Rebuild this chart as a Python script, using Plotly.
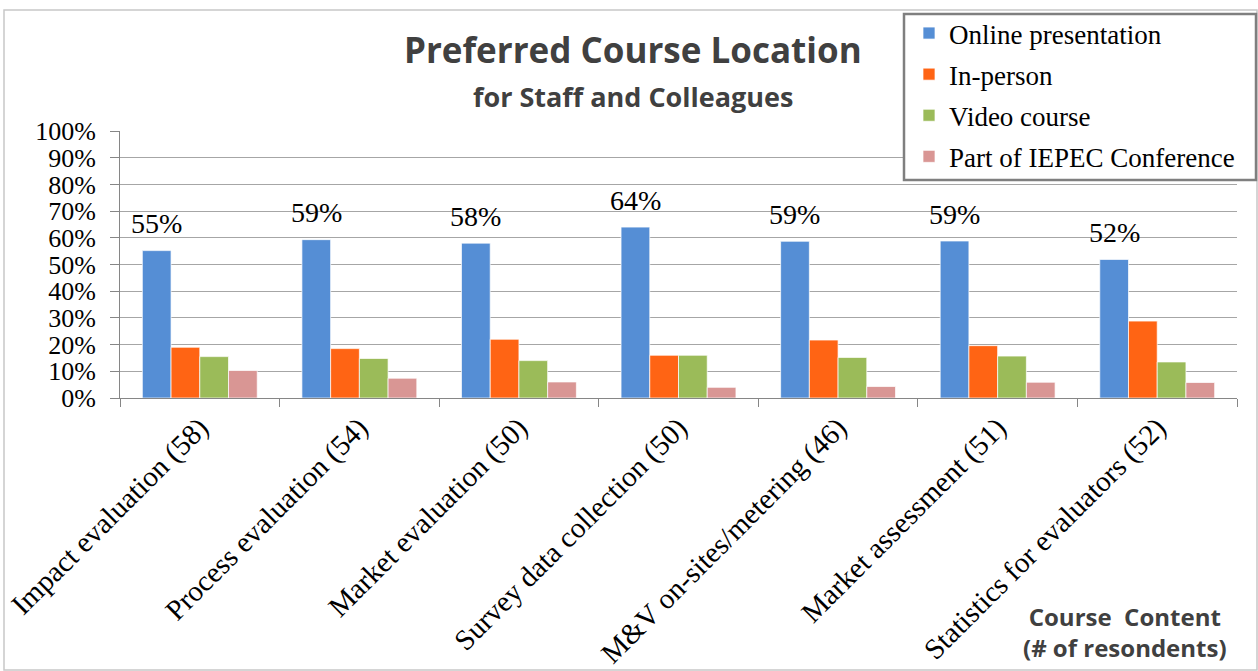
import plotly.graph_objects as go

categories = [
    "Impact evaluation (58)",
    "Process evaluation (54)",
    "Market evaluation (50)",
    "Survey data collection (50)",
    "M&V on-sites/metering (46)",
    "Market assessment (51)",
    "Statistics for evaluators (52)",
]
series_names = ["Online presentation", "In-person", "Video course", "Part of IEPEC Conference"]
online = [0.552, 0.593, 0.58, 0.64, 0.587, 0.588, 0.519]
in_person = [0.19, 0.185, 0.22, 0.16, 0.217, 0.196, 0.288]
video = [0.155, 0.148, 0.14, 0.16, 0.152, 0.157, 0.135]
iepec = [0.103, 0.074, 0.06, 0.04, 0.043, 0.059, 0.058]
colors = ["#558ED5", "#FF6414", "#9BBB59", "#D99694"]
y_ticks = [i / 10 for i in range(11)]

SERIF = "Liberation Serif"
SANS = "Open Sans"

W, H = 1258, 671
ML, MR, MT, MB = 120, 21, 131, 273
PW = W - ML - MR
PH = H - MT - MB
BARGAP = 0.28

fig = go.Figure()
for i, (name, vals) in enumerate(zip(series_names, [online, in_person, video, iepec])):
    fig.add_trace(go.Bar(
        name=name, x=categories, y=vals,
        marker=dict(color=colors[i], line=dict(color="rgba(255,255,255,0.7)", width=1)),
        legendgroup=name,
    ))

def px_to_paper_x(px):
    return (px - ML) / PW

def px_to_paper_y(py):
    return (H - MB - py) / PH

# data labels for the Online presentation series, placed above the bars
cat_w = PW / len(categories)
bar_w = cat_w * (1 - BARGAP) / 4
shift = -1.5 * bar_w
annotations = []
for c, v in zip(categories, online):
    annotations.append(dict(
        x=c, y=v + 0.10, xref="x", yref="y", text=f"{round(v*100)}%",
        showarrow=False, xshift=shift, yanchor="middle",
        font=dict(family=SERIF, size=28, color="#000000"),
    ))

annotations += [
    dict(x=px_to_paper_x(633), y=px_to_paper_y(50), xref="paper", yref="paper",
         text="<b>Preferred Course Location</b>", showarrow=False,
         font=dict(family=SANS, size=35, color="#404040"), xanchor="center", yanchor="middle"),
    dict(x=px_to_paper_x(633), y=px_to_paper_y(97), xref="paper", yref="paper",
         text="<b>for Staff and Colleagues</b>", showarrow=False,
         font=dict(family=SANS, size=27, color="#404040"), xanchor="center", yanchor="middle"),
    dict(x=px_to_paper_x(1125), y=px_to_paper_y(632), xref="paper", yref="paper",
         text="<b>Course\u00a0\u00a0Content<br>(# of resondents)</b>", showarrow=False,
         font=dict(family=SANS, size=24, color="#404040"), xanchor="center", yanchor="middle"),
]

fig.update_layout(
    width=W, height=H,
    margin=dict(l=ML, r=MR, t=MT, b=MB, pad=0, autoexpand=False),
    paper_bgcolor="white", plot_bgcolor="white",
    barmode="group", bargap=BARGAP, bargroupgap=0,
    showlegend=True,
    legend=dict(
        x=px_to_paper_x(909), y=px_to_paper_y(9), xanchor="left", yanchor="top",
        font=dict(family=SERIF, size=27, color="#000000"),
        borderwidth=0, bgcolor="rgba(0,0,0,0)",
        tracegroupgap=3, itemclick=False,
    ),
    annotations=annotations,
    shapes=[
        dict(type="rect", xref="paper", yref="paper", layer="below",
             x0=px_to_paper_x(4), x1=px_to_paper_x(1257),
             y0=px_to_paper_y(670), y1=px_to_paper_y(10),
             line=dict(color="#C8C8C8", width=1.5)),
        # legend frame (white box that covers the gridlines behind the legend)
        dict(type="rect", xref="paper", yref="paper", layer="above",
             x0=px_to_paper_x(904), x1=px_to_paper_x(1256),
             y0=px_to_paper_y(180), y1=px_to_paper_y(14),
             fillcolor="white", line=dict(color="#7F7F7F", width=2.5)),
    ],
)
fig.update_yaxes(
    range=[0, 1], tickvals=y_ticks, tickformat=".0%",
    tickfont=dict(family=SERIF, size=26, color="#000000"),
    showgrid=True, gridcolor="#A6A6A6", gridwidth=1,
    showline=True, linecolor="#868686", linewidth=1,
    ticks="outside", ticklen=9, tickcolor="#868686", zeroline=False,
    ticklabelstandoff=9, automargin=False,
)
fig.update_xaxes(
    tickangle=-45, tickfont=dict(family=SERIF, size=29, color="#000000"),
    showline=True, linecolor="#868686", linewidth=1,
    ticks="outside", tickson="boundaries", ticklen=8, tickcolor="#868686",
    showgrid=False, automargin=False,
)

fig.write_html("out.html", config={"displayModeBar": False},
               post_script="document.body.style.margin='0';document.body.style.overflow='hidden';")
